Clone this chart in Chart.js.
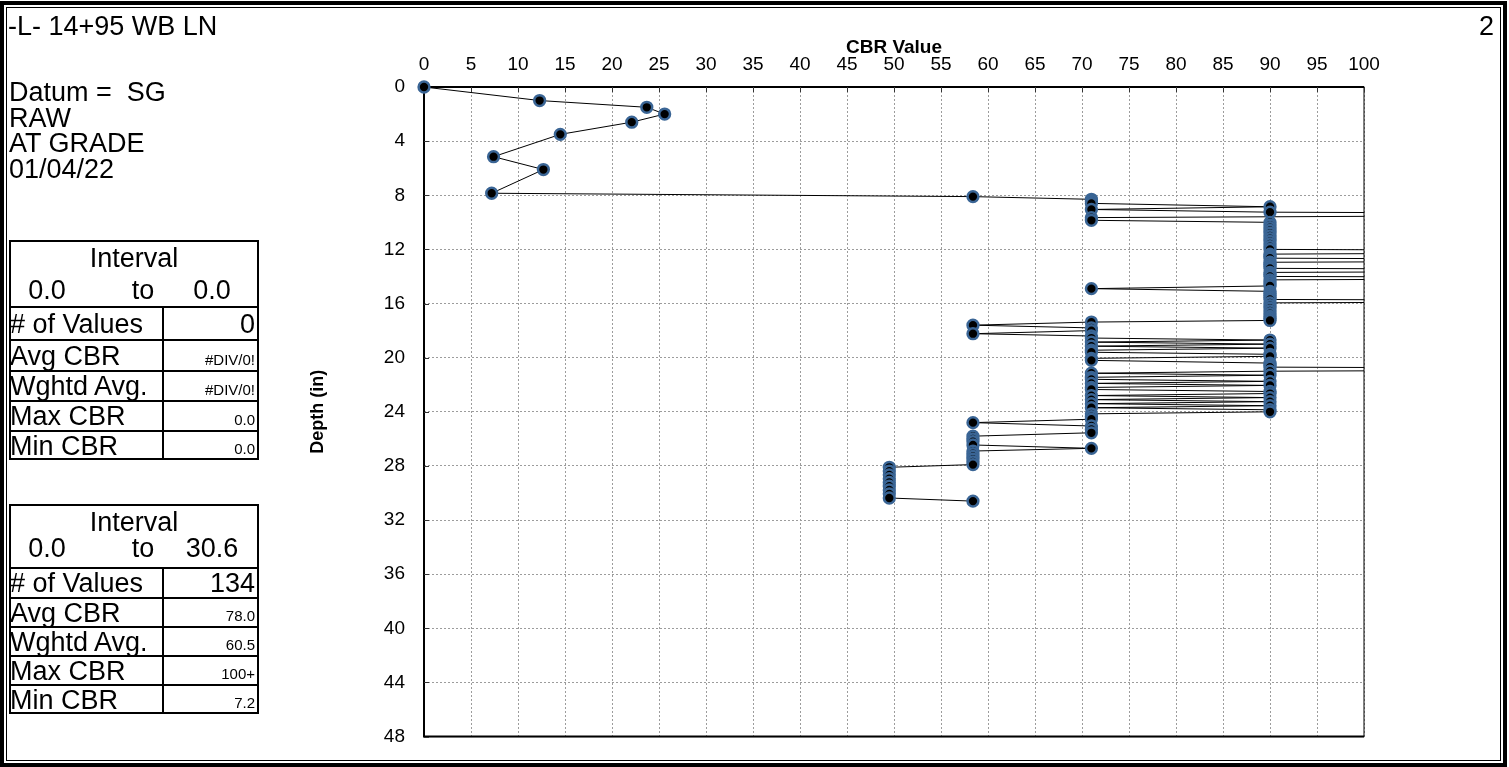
<!DOCTYPE html>
<html>
<head>
<meta charset="utf-8">
<title>-L- 14+95 WB LN</title>
<script src="https://cdn.jsdelivr.net/npm/chart.js@4.4.1/dist/chart.umd.min.js"></script>
<style>
  html, body { margin:0; padding:0; background:#fff; }
  body { position:relative; width:1509px; height:767px; overflow:hidden;
         font-family:'Liberation Sans', Arial, Helvetica, sans-serif; color:#000; }
  #cbrChart { position:absolute; left:0; top:0; }
  .frame { position:absolute; box-sizing:border-box; border-style:solid; border-color:#000; pointer-events:none; }
  .lbl { position:absolute; white-space:pre; font-size:27px; line-height:30px; height:30px; }
  .lbl.small { font-size:15px; }
  .box { position:absolute; box-sizing:border-box; border:2px solid #000; }
  .hl { position:absolute; height:2px; background:#000; }
  .vl { position:absolute; width:2px; background:#000; }
</style>
</head>
<body>
<canvas id="cbrChart" width="1509" height="767"></canvas>
<div id="panel"></div>
<div class="frame" style="left:0;top:1px;width:1507px;height:766px;border-width:4px;"></div>
<div class="frame" style="left:6px;top:7px;width:1495px;height:754px;border-width:1px;"></div>
<script>
// DCP sounding: depth below datum (in) and CBR for each reading
const depthIn = [
  0, 1.0, 1.5, 2.0, 2.6, 3.5, 5.15, 6.1, 7.85, 8.1,
  8.3, 8.45, 8.6, 8.85, 9.05, 9.25, 9.4, 9.65, 9.85, 10.0,
  10.2, 10.4, 10.6, 10.8, 11.0, 11.2, 11.4, 11.6, 11.8, 12.0,
  12.15, 12.35, 12.5, 12.65, 12.8, 12.95, 13.1, 13.25, 13.4, 13.55,
  13.7, 13.85, 14.0, 14.1, 14.25, 14.4, 14.55, 14.7, 14.9, 15.1,
  15.25, 15.4, 15.55, 15.7, 15.8, 15.95, 16.15, 16.35, 16.55, 16.75,
  16.95, 17.1, 17.25, 17.37, 17.6, 17.8, 18.0, 18.23, 18.4, 18.55,
  18.7, 18.85, 19.0, 19.15, 19.3, 19.45, 19.6, 19.75, 19.9, 20.05,
  20.2, 20.4, 20.55, 20.7, 20.85, 21.0, 21.15, 21.3, 21.45, 21.6,
  21.75, 21.9, 22.05, 22.2, 22.35, 22.5, 22.65, 22.8, 22.95, 23.1,
  23.25, 23.4, 23.55, 23.7, 23.85, 24.0, 24.15, 24.35, 24.55, 24.8,
  25.05, 25.3, 25.55, 25.8, 26.0, 26.2, 26.45, 26.7, 26.9, 27.1,
  27.3, 27.5, 27.7, 27.9, 28.1, 28.38, 28.66, 28.94, 29.22, 29.5,
  29.78, 30.06, 30.37, 30.6
];
const cbrValue = [
  0, 12.3, 23.7, 25.6, 22.1, 14.5, 7.4, 12.7, 7.2, 58.4,
  71, 71, 71, 90, 71, 90, 150, 71, 71, 90,
  90, 90, 90, 90, 90, 90, 90, 90, 90, 90,
  150, 90, 90, 90, 150, 90, 90, 90, 90, 150,
  90, 90, 90, 150, 90, 90, 90, 90, 71, 90,
  90, 90, 90, 90, 150, 90, 90, 90, 90, 90,
  90, 90, 90, 71, 58.4, 71, 71, 58.4, 71, 71,
  90, 71, 90, 71, 90, 71, 71, 90, 90, 71,
  71, 90, 90, 90, 150, 90, 71, 90, 71, 71,
  90, 71, 90, 71, 71, 90, 90, 71, 90, 71,
  90, 71, 90, 71, 90, 90, 71, 71, 71, 58.4,
  71, 71, 71, 58.4, 58.4, 58.4, 58.4, 71, 58.4, 58.4,
  58.4, 58.4, 58.4, 58.4, 49.5, 49.5, 49.5, 49.5, 49.5, 49.5,
  49.5, 49.5, 49.5, 58.4
];

// Axis ranges and tick steps
const cbrTicks = { min: 0, max: 100, step: 5 };
const depthTicks = { min: 0, max: 48, step: 4 };

// Header notes
const sectionTitle = '-L- 14+95 WB LN';
const pageNo = '2';
const notes = ['Datum =  SG', 'RAW', 'AT GRADE', '01/04/22'];

// Interval summaries
const statLabels = ['# of Values', 'Avg CBR', 'Wghtd Avg.', 'Max CBR', 'Min CBR'];
const interval1 = { from: '0.0', to: '0.0', values: ['0', '#DIV/0!', '#DIV/0!', '0.0', '0.0'] };
const interval2 = { from: '0.0', to: '30.6', values: ['134', '78.0', '60.5', '100+', '7.2'] };

// ---------- left-hand panel ----------
const panel = document.getElementById('panel');
function addText(text, x, cy, align, small) {
  const d = document.createElement('div');
  d.className = 'lbl' + (small ? ' small' : '');
  d.textContent = text;
  d.style.top = (cy - 15) + 'px';
  if (align === 'right') d.style.right = (1509 - x) + 'px';
  else if (align === 'center') { d.style.left = x + 'px'; d.style.transform = 'translateX(-50%)'; }
  else d.style.left = x + 'px';
  panel.appendChild(d);
}
function addRule(cls, x, y, len) {
  const d = document.createElement('div');
  d.className = cls;
  d.style.left = x + 'px'; d.style.top = y + 'px';
  if (cls === 'hl') d.style.width = len + 'px'; else d.style.height = len + 'px';
  panel.appendChild(d);
}
function buildTable(t) {
  const left = 9, right = 259, divider = 163;
  const box = document.createElement('div');
  box.className = 'box';
  box.style.left = left + 'px'; box.style.top = t.top + 'px';
  box.style.width = (right - left) + 'px';
  box.style.height = (t.rows[t.rows.length - 1] - t.top) + 'px';
  panel.appendChild(box);
  addText('Interval', 134, t.top + 18, 'center');
  addText(t.data.from, 47, t.numY, 'center');
  addText('to', 143, t.numY, 'center');
  addText(t.data.to, 212, t.numY, 'center');
  addRule('hl', left, t.head - 1, right - left);
  addRule('vl', divider - 1, t.head, t.rows[t.rows.length - 1] - t.head);
  let prev = t.head;
  t.rows.forEach((bottom, i) => {
    if (i < t.rows.length - 1) addRule('hl', left, bottom - 1, right - left);
    const cy = (prev + bottom) / 2;
    addText(statLabels[i], 10, cy, 'left');
    if (i === 0) addText(t.data.values[i], 255, cy, 'right');
    else addText(t.data.values[i], 255, bottom - 11, 'right', true);
    prev = bottom;
  });
}
addText(sectionTitle, 8, 26, 'left');
addText(pageNo, 1494, 26, 'right');
notes.forEach((n, i) => addText(n, 9, 92 + i * 25.7, 'left'));
buildTable({ top: 240, head: 307, numY: 290, rows: [340, 371, 401, 431, 460], data: interval1 });
buildTable({ top: 504, head: 568, numY: 548, rows: [598, 627, 656, 685, 714], data: interval2 });

// ---------- chart ----------
Chart.defaults.font.family = "'Liberation Sans', Arial, Helvetica, sans-serif";
Chart.defaults.color = '#000';

// Solid plot frame with short inward tick marks, drawn under the data
const plotFrame = {
  id: 'plotFrame',
  beforeDatasetsDraw(chart) {
    const { ctx, chartArea: a, scales: { x, y } } = chart;
    ctx.save();
    ctx.strokeStyle = '#000';
    ctx.lineWidth = 1;
    ctx.strokeRect(a.left, a.top, a.right - a.left, a.bottom - a.top);
    ctx.lineWidth = 2;
    ctx.beginPath();
    ctx.moveTo(a.left, a.top); ctx.lineTo(a.right, a.top);
    ctx.moveTo(a.left, a.top); ctx.lineTo(a.left, a.bottom); ctx.lineTo(a.right, a.bottom);
    ctx.stroke();
    ctx.lineWidth = 1;
    ctx.strokeStyle = '#333';
    ctx.beginPath();
    x.ticks.forEach(t => {
      const px = Math.round(x.getPixelForValue(t.value)) + 0.5;
      ctx.moveTo(px, a.top); ctx.lineTo(px, a.top + 5);
    });
    y.ticks.forEach(t => {
      const py = Math.round(y.getPixelForValue(t.value)) + 0.5;
      ctx.moveTo(a.left, py); ctx.lineTo(a.left + 5, py);
    });
    ctx.stroke();
    ctx.restore();
  }
};

const points = depthIn.map((d, i) => ({ x: cbrValue[i], y: d }));

new Chart(document.getElementById('cbrChart'), {
  type: 'scatter',
  data: {
    datasets: [{
      data: points,
      showLine: true,
      borderColor: '#000',
      borderWidth: 1,
      tension: 0,
      pointRadius: 5.4,
      pointHoverRadius: 5.4,
      pointBorderWidth: 2.5,
      pointBackgroundColor: '#000',
      pointBorderColor: '#3a6595',
      clip: { left: 10, top: 10, right: 0, bottom: 10 }
    }]
  },
  options: {
    responsive: false,
    animation: false,
    events: [],
    layout: { padding: { left: 307, top: 36, right: 145, bottom: 27 } },
    plugins: { legend: { display: false }, tooltip: { enabled: false } },
    scales: {
      x: {
        type: 'linear',
        position: 'top',
        min: cbrTicks.min, max: cbrTicks.max,
        ticks: { stepSize: cbrTicks.step, autoSkip: false, maxRotation: 0, padding: 11,
                 font: { size: 19 }, color: '#000' },
        grid: { color: '#9c9c9c', lineWidth: 1, drawTicks: false, borderDash: [2, 2] },
        border: { display: false, dash: [2, 2] },
        title: { display: true, text: 'CBR Value', padding: 0,
                 font: { size: 19, weight: 'bold' }, color: '#000' },
        afterFit: s => { s.height = 51; }
      },
      y: {
        type: 'linear',
        reverse: true,
        min: depthTicks.min, max: depthTicks.max,
        ticks: { stepSize: depthTicks.step, autoSkip: false, padding: 19,
                 font: { size: 19 }, color: '#000' },
        grid: { color: '#9c9c9c', lineWidth: 1, drawTicks: false, borderDash: [2, 2] },
        border: { display: false, dash: [2, 2] },
        title: { display: true, text: 'Depth (in)', padding: 0,
                 font: { size: 18, weight: 'bold' }, color: '#000' },
        afterFit: s => { s.width = 117; }
      }
    }
  },
  plugins: [plotFrame]
});
</script>
</body>
</html>
